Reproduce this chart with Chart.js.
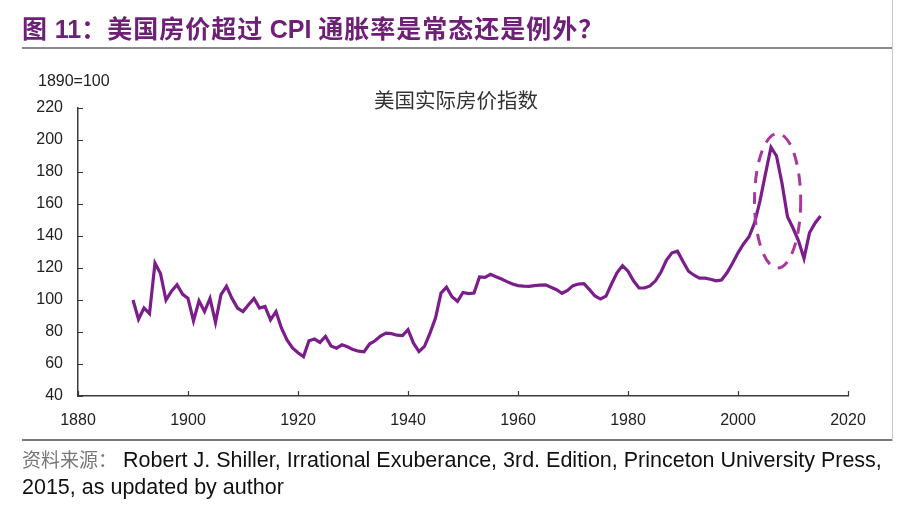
<!DOCTYPE html>
<html lang="zh">
<head>
  <meta charset="UTF-8">
  <title>美国实际房价指数</title>
  <script src="https://cdn.jsdelivr.net/npm/chart.js"></script>
  <style>
    body { margin: 0; background: #fff; width: 904px; height: 526px; overflow: hidden; position: relative; font-family: "Liberation Sans", Arial, sans-serif; }
    canvas { position: absolute; left: 0; top: 0; }
    .txt { position: absolute; white-space: nowrap; }
    #title { left: 22px; top: 9px; font-size: 25px; letter-spacing: 1px; font-weight: bold; color: #6e2077; font-family: "Noto Sans CJK SC", sans-serif; }
    #title .lat { font-family: "Liberation Sans", Arial, sans-serif; font-size: 25px; letter-spacing: 0; }
    #rule1 { position: absolute; left: 22px; top: 47px; width: 870px; height: 2px; background: #8a8a8a; }
    #rule2 { position: absolute; left: 22px; top: 439px; width: 870px; height: 2px; background: #7a7a7a; }
    #rule3 { position: absolute; left: 892px; top: 0; width: 1px; height: 441px; background: #c8c8c8; }
    #base { left: 38px; top: 72px; font-size: 16px; color: #222; }
    #ctitle { left: 374px; top: 84px; font-size: 20.5px; color: #333; font-family: "Noto Sans CJK SC", sans-serif; }
    #src1 { left: 22px; top: 445px; font-size: 21.5px; color: #111; }
    #src1 .cn { color: #777; font-size: 19px; font-family: "Noto Sans CJK SC", sans-serif; margin-right: 6px; }
    #src2 { left: 22px; top: 475px; font-size: 21.5px; color: #111; }
  </style>
</head>
<body>
  <canvas id="chart" width="904" height="526"></canvas>
  <div class="txt" id="title">图 <span class="lat">11</span>：美国房价超过 <span class="lat">CPI</span> 通胀率是常态还是例外？</div>
  <div id="rule1"></div>
  <div id="rule2"></div>
  <div id="rule3"></div>
  <div class="txt" id="base">1890=100</div>
  <div class="txt" id="ctitle">美国实际房价指数</div>
  <div class="txt" id="src1"><span class="cn">资料来源：</span>Robert J. Shiller, Irrational Exuberance, 3rd. Edition, Princeton University Press,</div>
  <div class="txt" id="src2">2015, as updated by author</div>

  <script>
    const years = [];
    for (let y = 1890; y <= 2015; y++) years.push(y);

    const index = [
      100, 88, 95, 91.5, 123, 116.5, 100, 105.5, 109.5, 103.7,   // 1890s
      101, 87, 99.5, 92.8, 101, 86, 103.3, 108.5, 101, 95,        // 1900s
      92.8, 97, 101, 95, 96, 87.6, 92.8, 82.4, 75, 70,            // 1910s
      67, 64.6, 74.5, 75.6, 73.5, 77.2, 71.3, 69.9, 72, 70.8,     // 1920s
      69, 68, 67.6, 72.5, 74.5, 77.5, 79.3, 79, 78, 77.8,         // 1930s
      81.4, 73, 67.8, 71, 79.3, 88.7, 104.3, 108, 102, 99.2,      // 1940s
      104.7, 104, 104.3, 114.4, 114.1, 116, 114.5, 113.1, 111.5, 110, // 1950s
      109, 108.7, 108.5, 109, 109.3, 109.5, 108, 106.4, 104.2, 106,   // 1960s
      109, 110, 110.2, 106.5, 102.5, 100.6, 102.4, 110, 117, 121.5,   // 1970s
      118, 112, 107.5, 107.5, 108.8, 112, 117.5, 125, 129.5, 130.5,   // 1980s
      124, 118, 115.5, 113.7, 113.7, 113, 112, 112.5, 117, 123,       // 1990s
      129.5, 135, 139.5, 148, 162, 179, 195.5, 190, 173, 152,         // 2000s
      145, 137, 126, 142, 148, 152.5                                  // 2010s
    ];

    const xTicks = [1880, 1900, 1920, 1940, 1960, 1980, 2000, 2020];
    const yTicks = [40, 60, 80, 100, 120, 140, 160, 180, 200, 220];

    // dashed ellipse around the 2006 bubble (centre year, centre value, half-width in years, half-height in index points)
    const bubble = { year: 2007.2, value: 162, rYears: 4.2, rValue: 42 };

    const lineColor = '#7b1d8a';
    const axisColor = '#3a3a3a';

    // inward tick marks, drawn on both axes
    const innerTicks = {
      id: 'innerTicks',
      afterDraw(chart) {
        const { ctx, chartArea, scales } = chart;
        ctx.save();
        ctx.strokeStyle = axisColor;
        ctx.lineWidth = 1.2;
        ctx.beginPath();
        xTicks.forEach(t => {
          const px = Math.round(scales.x.getPixelForValue(t)) + 0.5;
          ctx.moveTo(px, chartArea.bottom);
          ctx.lineTo(px, chartArea.bottom - 5);
        });
        yTicks.forEach(t => {
          const py = Math.round(scales.y.getPixelForValue(t)) + 0.5;
          ctx.moveTo(chartArea.left, py);
          ctx.lineTo(chartArea.left + 5, py);
        });
        ctx.stroke();
        ctx.restore();
      }
    };

    const bubbleRing = {
      id: 'bubbleRing',
      afterDatasetsDraw(chart) {
        const { ctx, scales } = chart;
        const cx = scales.x.getPixelForValue(bubble.year);
        const cy = scales.y.getPixelForValue(bubble.value);
        const rx = Math.abs(scales.x.getPixelForValue(bubble.year + bubble.rYears) - cx);
        const ry = Math.abs(scales.y.getPixelForValue(bubble.value + bubble.rValue) - cy);
        ctx.save();
        ctx.strokeStyle = '#a8389f';
        ctx.lineWidth = 3;
        ctx.setLineDash([12, 9]);
        ctx.beginPath();
        ctx.ellipse(cx, cy, rx, ry, 0, 0, Math.PI * 2);
        ctx.stroke();
        ctx.restore();
      }
    };

    new Chart(document.getElementById('chart').getContext('2d'), {
      type: 'line',
      data: {
        datasets: [{
          label: '美国实际房价指数',
          data: years.map((y, i) => ({ x: y, y: index[i] })),
          borderColor: lineColor,
          borderWidth: 3.2,
          pointRadius: 0,
          tension: 0,
          fill: false
        }]
      },
      options: {
        responsive: false,
        animation: false,
        layout: { padding: { left: 28, right: 56, top: 108, bottom: 100 } },
        plugins: { legend: { display: false }, title: { display: false }, tooltip: { enabled: false } },
        scales: {
          x: {
            type: 'linear',
            min: 1880, max: 2020,
            afterFit: s => { s.height = 30; },
            afterBuildTicks: s => { s.ticks = xTicks.map(v => ({ value: v })); },
            grid: { display: false, drawTicks: false },
            border: { display: true, color: axisColor, width: 1.5 },
            ticks: { padding: 15, color: '#222', font: { family: 'Liberation Sans, Arial', size: 16 }, maxRotation: 0, callback: v => String(v) }
          },
          y: {
            min: 40, max: 220,
            afterFit: s => { s.width = 50; },
            afterBuildTicks: s => { s.ticks = yTicks.map(v => ({ value: v })); },
            grid: { display: false, drawTicks: false },
            border: { display: true, color: axisColor, width: 1.5 },
            ticks: { padding: 15, color: '#222', font: { family: 'Liberation Sans, Arial', size: 16 } }
          }
        }
      },
      plugins: [innerTicks, bubbleRing]
    });
  </script>
</body>
</html>
